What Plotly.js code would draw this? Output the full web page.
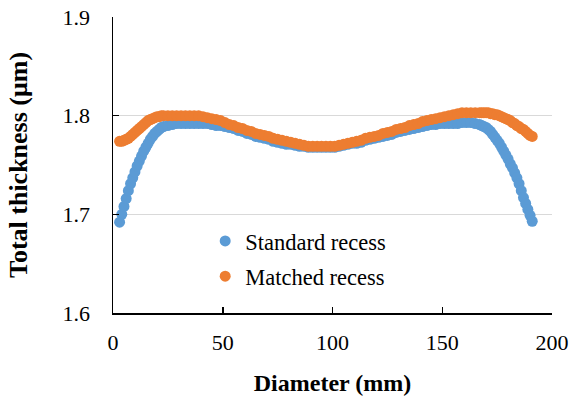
<!DOCTYPE html>
<html>
<head>
<meta charset="utf-8">
<script src="https://cdn.plot.ly/plotly-3.0.1.min.js"></script>
<style>html,body{margin:0;padding:0;background:#fff;}#chart{width:569px;height:396px;}</style>
</head>
<body>
<div id="chart"></div>
<script>
// Diameter positions (mm)
const diameter = [3,4,5,6,7,8,9,10,11,12,13,14,15,16,17,18,19,20,21,22,23,
  25,27,29,31,33,35,37,39,41,43,45,47,49,51,53,55,57,59,61,63,65,67,69,71,73,75,77,79,81,83,
  85,87,89,91,93,95,97,99,101,103,105,107,109,111,113,115,117,119,121,123,125,127,129,131,133,135,137,139,141,143,
  145,147,149,151,153,155,157,159,161,163,165,167,
  168,169,170,171,172,173,174,175,176,177,178,179,180,181,182,183,184,185,186,187,188,189,190,191];

// Standard recess thickness (µm)
const standardRecess = [1.692,1.700,1.708,1.716,1.724,1.731,1.737,1.743,1.749,1.754,1.759,1.764,1.768,1.772,1.776,1.779,1.782,1.784,1.786,1.788,1.789,
  1.790,1.791,1.792,1.792,1.792,1.792,1.792,1.792,1.792,1.792,
  1.791,1.790,1.790,1.789,1.788,1.787,1.785,1.784,1.782,1.781,
  1.779,1.778,1.777,1.776,1.774,1.773,1.772,1.771,1.771,1.770,
  1.769,1.769,1.768,1.768,1.768,1.768,1.768,1.768,1.768,1.769,
  1.770,1.771,1.772,1.772,1.773,1.775,1.776,1.777,1.778,1.779,
  1.780,1.781,1.783,1.784,1.785,1.786,1.787,1.788,1.789,1.790,
  1.791,1.791,1.792,1.792,1.792,1.792,1.792,1.793,1.793,1.793,
  1.792,1.791,
  1.790,1.789,1.788,1.786,1.784,1.781,1.778,1.775,1.772,1.768,1.764,1.760,1.756,1.751,1.747,1.742,1.737,1.731,1.724,1.717,1.711,1.705,1.699,1.693];

// Matched recess thickness (µm)
const matchedRecess = [1.774,1.774,1.775,1.776,1.777,1.779,1.781,1.783,1.785,1.787,1.789,1.791,1.793,1.795,1.796,1.797,1.798,1.799,1.799,1.800,1.800,
  1.800,1.800,1.800,1.800,1.800,1.800,1.800,1.800,1.799,1.798,
  1.797,1.796,1.795,1.793,1.791,1.790,1.788,1.787,1.785,1.784,
  1.782,1.781,1.780,1.779,1.777,1.776,1.775,1.774,1.773,1.772,
  1.771,1.770,1.769,1.769,1.769,1.769,1.769,1.769,1.769,1.770,
  1.771,1.772,1.773,1.774,1.775,1.777,1.778,1.779,1.780,1.782,
  1.783,1.784,1.786,1.787,1.788,1.790,1.791,1.792,1.794,1.795,
  1.796,1.797,1.798,1.799,1.800,1.801,1.802,1.803,1.803,1.803,
  1.803,1.803,
  1.803,1.803,1.803,1.803,1.802,1.802,1.801,1.801,1.800,1.799,1.798,1.797,1.796,1.795,1.793,1.792,1.790,1.789,1.787,1.786,1.784,1.782,1.780,1.779];

const seriesNames = ['Standard recess', 'Matched recess'];
const xTicks = [0, 50, 100, 150, 200];
const yTicks = [1.6, 1.7, 1.8, 1.9];

const serif = 'Liberation Serif, Times New Roman, serif';

const traces = [
  {x: diameter, y: standardRecess, name: seriesNames[0], type: 'scatter', mode: 'markers',
   legendgroup: 'a', marker: {color: '#5B9BD5', size: 11}},
  {x: diameter, y: matchedRecess, name: seriesNames[1], type: 'scatter', mode: 'markers',
   legendgroup: 'b', marker: {color: '#ED7D31', size: 11}}
];

const layout = {
  width: 569, height: 396,
  margin: {l: 113, r: 17, t: 17, b: 83},
  paper_bgcolor: '#fff', plot_bgcolor: '#fff',
  font: {family: serif, size: 22, color: '#000'},
  showlegend: true,
  legend: {x: 0.21, y: 0.315, xanchor: 'left', yanchor: 'top', bgcolor: 'rgba(0,0,0,0)',
           font: {family: serif, size: 22.5, color: '#000'}, traceorder: 'grouped', tracegroupgap: 3},
  xaxis: {
    range: [0, 200], tickvals: xTicks, ticktext: xTicks.map(String),
    showgrid: false, zeroline: false, showline: true, linecolor: '#000', linewidth: 1.5,
    ticks: 'inside', ticklen: 6, tickwidth: 1.5, tickcolor: '#000', ticklabelstandoff: 9,
    title: {text: '<b>Diameter (mm)</b>', font: {family: serif, size: 24, color: '#000'}, standoff: 20},
    tickfont: {family: serif, size: 22, color: '#000'}
  },
  yaxis: {
    range: [1.6, 1.9], tickvals: yTicks, ticktext: yTicks.map(v => v.toFixed(1)),
    showgrid: true, gridcolor: '#D9D9D9', gridwidth: 1, zeroline: false,
    showline: true, linecolor: '#000', linewidth: 1.5,
    ticks: 'inside', ticklen: 6, tickwidth: 1.5, tickcolor: '#000', ticklabelstandoff: 17,
    title: {text: '<b>Total thickness (μm)</b>', font: {family: serif, size: 26, color: '#000'}, standoff: 27},
    tickfont: {family: serif, size: 22, color: '#000'}
  }
};

Plotly.newPlot('chart', traces, layout, {displayModeBar: false, staticPlot: true});
</script>
</body>
</html>
